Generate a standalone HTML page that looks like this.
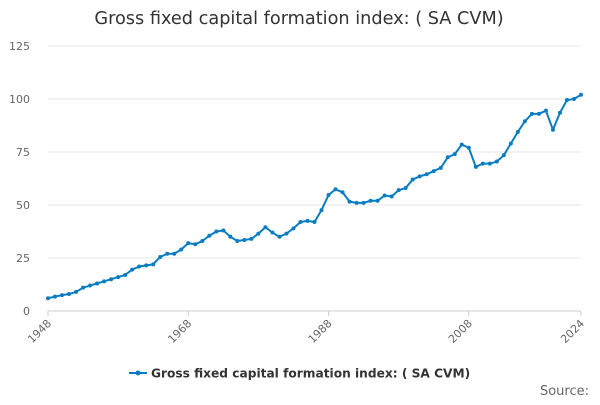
<!DOCTYPE html>
<html><head><meta charset="utf-8"><style>
body{margin:0;background:#fff;font-family:"Liberation Sans",sans-serif}
svg text{font-family:"DejaVu Sans","Liberation Sans",sans-serif}
</style></head><body>
<svg width="600" height="400">
<text x="299" y="24" text-anchor="middle" font-size="17.7" fill="#333">Gross fixed capital formation index: ( SA CVM)</text>
<g id="grid"></g><g id="xaxis"></g><g id="plot"></g>
<g>
<line x1="129" y1="373" x2="147" y2="373" stroke="#0a7dc2" stroke-width="2"/>
<circle cx="138" cy="373" r="2.5" fill="#0a7dc2"/>
<text x="151" y="377.5" font-size="12.2" font-weight="bold" fill="#333">Gross fixed capital formation index: ( SA CVM)</text>
</g>
<text x="589" y="395" text-anchor="end" font-size="13" fill="#666">Source:</text>
</svg>
<script>
const startYear=1948;
const values=[6,6.8,7.5,8,9,11,12,13,14,15,16,17,19.5,21,21.5,22,25.5,27,27,29,32,31.5,33,35.5,37.5,38,35,33,33.5,34,36.5,39.5,37,35,36.5,39,42,42.5,42,47.6,54.7,57.4,56,51.6,51,51,52,52,54.5,54,57,58,62,63.5,64.5,66,67.5,72.5,74,78.5,77,68,69.5,69.5,70.5,73.5,79,84.5,89.5,93,93,94.5,85.5,93.5,99.5,100,102];
const yTicks=[0,25,50,75,100,125];
const xTicks=[1948,1968,1988,2008,2024];
const NS="http://www.w3.org/2000/svg";
const x=yr=>48+(yr-1948)*(533/76);
const y=v=>311-v*2.12;
function mk(t,a,p){const e=document.createElementNS(NS,t);for(const k in a)e.setAttribute(k,a[k]);p.appendChild(e);return e;}
const grid=document.getElementById('grid'),xa=document.getElementById('xaxis'),plot=document.getElementById('plot');
yTicks.forEach(v=>{
 const l=mk('line',{x1:48,x2:581,y1:y(v),y2:y(v),stroke:v==0?'#ccc':'#e6e6e6'},grid);
 
 
 const t=mk('text',{x:30,y:y(v)+4,'text-anchor':'end','font-size':11,fill:'#666'},grid);
 t.textContent=v;
 
 
});
xTicks.forEach(yr=>{
 const l=mk('line',{x1:x(yr),x2:x(yr),y1:311,y2:316,stroke:'#ccc'},xa);
 
 
 const t=mk('text',{x:x(yr)+4,y:324,'text-anchor':'end','font-size':11,fill:'#666',transform:`rotate(-45 ${x(yr)+4} 324)`},xa);
 t.textContent=yr;
 
 
});
const pts=values.map((v,i)=>x(startYear+i)+','+y(v)).join(' ');
const pl=mk('polyline',{points:pts,fill:'none',stroke:'#0a7dc2','stroke-width':2,'stroke-linejoin':'round'},plot);


values.forEach((v,i)=>{
 const c=mk('circle',{cx:x(startYear+i),cy:y(v),r:2,fill:'#0a7dc2'},plot);
 
 
});
</script>
</body></html>
